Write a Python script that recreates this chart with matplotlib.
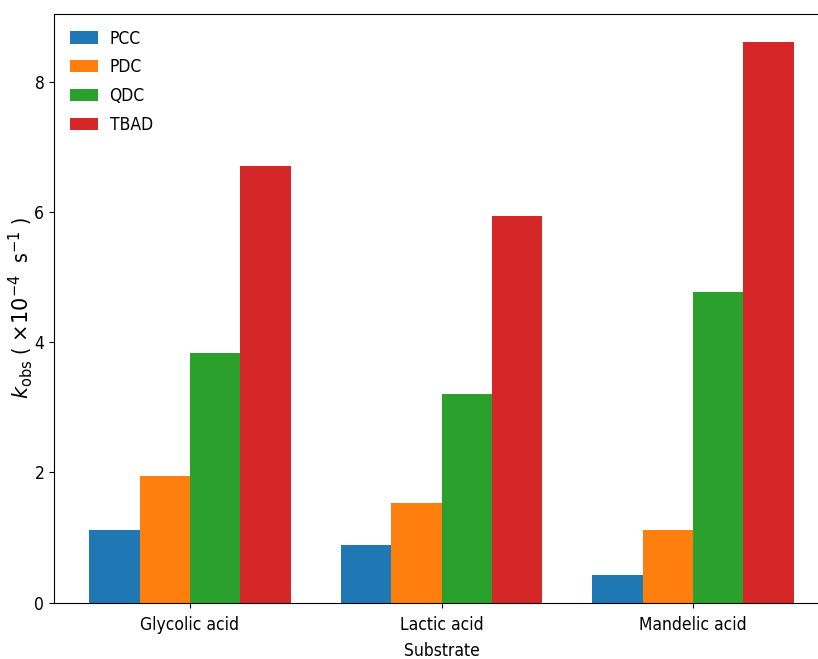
import numpy as np
import matplotlib
matplotlib.use("Agg")
import matplotlib.pyplot as plt

substrates = ["Glycolic acid", "Lactic acid", "Mandelic acid"]
catalysts = ["PCC", "PDC", "QDC", "TBAD"]
pcc = [1.11, 0.88, 0.42]
pdc = [1.95, 1.53, 1.11]
qdc = [3.83, 3.20, 4.77]
tbad = [6.70, 5.94, 8.61]
series = [pcc, pdc, qdc, tbad]
colors = ["#1f77b4", "#ff7f0e", "#2ca02c", "#d62728"]

plt.rcParams["font.family"] = ["DejaVu Sans"]
fig = plt.figure(figsize=(8.18, 6.59), dpi=100)
ax = fig.add_axes([54 / 818, 56.5 / 659, 775 / 818, 588.5 / 659])

x = np.arange(len(substrates))
w = 0.2
for i, (name, vals) in enumerate(zip(catalysts, series)):
    ax.bar(x + (i - 1.5) * w, vals, w, label=name, color=colors[i])

ax.set_xticks(x)
ax.set_xticklabels(substrates, fontsize=12.5, fontstretch="condensed")
ax.tick_params(axis="x", pad=6.5)
ax.set_yticks([0, 2, 4, 6, 8])
for lab in ax.get_yticklabels():
    lab.set_fontsize(12.5)
    lab.set_fontstretch("condensed")
ax.set_xlabel("Substrate", fontsize=12.5, fontstretch="condensed", labelpad=5.5)
ax.set_ylabel(r"$k_{\mathrm{obs}}$ ( $\times10^{-4}$  s$^{-1}$ )", fontsize=15,
              fontstretch="condensed")
ax.yaxis.set_label_coords(-0.024, 0.5)

ax.legend(loc="upper left", frameon=False, handlelength=1.65, handletextpad=0.65,
          borderaxespad=0.5, labelspacing=0.62,
          prop={"size": 12.5, "stretch": "condensed"})

fig.savefig("out.png", dpi=100)
